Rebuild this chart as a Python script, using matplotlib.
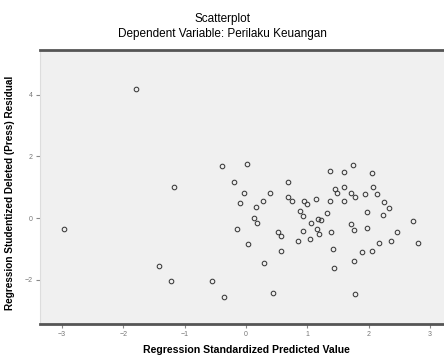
import matplotlib
matplotlib.use("Agg")
import matplotlib.pyplot as plt

# Regression standardized predicted value (x) vs studentized deleted residual (y)
pred_value = [-1.79, -1.17, -2.97, -1.42, -1.22, -0.55, -0.36, -0.39, 0.02, -0.19,
              -0.03, -0.10, -0.15, 0.39, 0.28, 0.16, 0.69, 0.69, 0.75, 0.95,
              1.00, 1.14, 0.88, 0.93, 0.13, 0.18, 0.03, 0.52, 0.57, 0.57,
              0.30, 0.44, 0.85, 0.93, 1.05, 1.06, 1.18, 1.23, 1.19, 1.16,
              1.32, 1.39, 1.37, 1.60, 1.45, 1.37, 1.60, 1.60, 1.49, 1.42,
              1.44, 1.75, 2.06, 1.71, 1.78, 1.94, 2.07, 2.14, 2.25, 2.33,
              1.98, 2.24, 2.73, 1.71, 1.76, 1.98, 2.47, 2.37, 2.17, 2.81,
              1.89, 2.06, 1.76, 1.78]
deleted_resid = [4.19, 1.01, -0.35, -1.55, -2.04, -2.04, -2.56, 1.69, 1.76, 1.18,
                 0.82, 0.49, -0.35, 0.82, 0.56, 0.36, 1.18, 0.69, 0.56, 0.56,
                 0.46, 0.62, 0.23, 0.07, 0.01, -0.16, -0.84, -0.45, -0.58, -1.06,
                 -1.45, -2.43, -0.74, -0.42, -0.68, -0.16, -0.03, -0.06, -0.51, -0.35,
                 0.17, -0.45, 1.53, 1.50, 0.95, 0.56, 0.56, 1.01, 0.82, -1.00,
                 -1.62, 1.73, 1.47, 0.82, 0.69, 0.79, 1.01, 0.79, 0.53, 0.33,
                 0.20, 0.10, -0.09, -0.19, -0.38, -0.32, -0.45, -0.74, -0.81, -0.81,
                 -1.10, -1.06, -1.39, -2.46]

x_ticks = [-3, -2, -1, 0, 1, 2, 3]
y_ticks = [-2, 0, 2, 4]

plt.rcParams['font.family'] = ['Liberation Sans', 'DejaVu Sans']

fig = plt.figure(figsize=(4.44, 3.56), dpi=100)
ax = fig.add_axes([0.090, 0.090, 0.910, 0.770])
ax.set_facecolor('#f0f0f0')

ax.plot(pred_value, deleted_resid, linestyle='none', marker='o', markersize=3.3,
        markerfacecolor='none', markeredgecolor='#3a3a3a', markeredgewidth=0.75)

ax.set_xlim(-3.36, 3.23)
ax.set_ylim(-3.44, 5.46)
ax.set_xticks(x_ticks)
ax.set_yticks(y_ticks)
ax.tick_params(axis='both', direction='out', length=3, width=0.8, color='#888888',
               labelsize=5, labelcolor='#777777', pad=2)

for side in ['top', 'bottom']:
    ax.spines[side].set_color('#555555')
    ax.spines[side].set_linewidth(2)
ax.spines['left'].set_color('#dddddd')
ax.spines['left'].set_linewidth(0.8)
ax.spines['right'].set_visible(False)

# axis titles placed directly in figure coordinates
fig.text(0.555, 0.017, 'Regression Standardized Predicted Value', ha='center', va='center',
         fontsize=7.6, fontweight='bold')
fig.text(0.023, 0.458, 'Regression Studentized Deleted (Press) Residual', ha='center',
         va='center', rotation=90, fontsize=7.2, fontweight='bold')

fig.text(0.5, 0.948, 'Scatterplot', ha='center', va='center', fontsize=8.5)
fig.text(0.5, 0.904, 'Dependent Variable: Perilaku Keuangan', ha='center', va='center',
         fontsize=8.5)

fig.savefig('out.png', dpi=100)
